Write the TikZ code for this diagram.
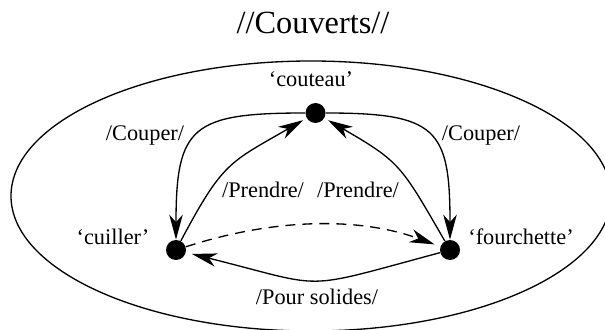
\documentclass[tikz,border=0pt]{standalone}
\usepackage{fontspec}
\setmainfont{Liberation Serif}
\usetikzlibrary{arrows.meta,positioning}
\tikzstyle{arrow} = [line width=0.75pt,-{Stealth[length=0.5cm,width=0.27cm,inset=0.15cm]}]
\tikzstyle{state} = [circle,fill=black,inner sep=0pt,minimum size=0.4cm]
\tikzstyle{lbl} = [font=\fontsize{12.7}{15}\selectfont]

\begin{document}
\begin{tikzpicture}
\useasboundingbox (0,0) rectangle (12.1,6.58);
\clip (0,0) rectangle (12.1,6.58);

% Title
\node[font=\fontsize{18.4}{22}\selectfont] (title) at (6.26,6.13) {//Couverts//};

% Enclosing ellipse
\draw[line width=0.75pt] (6.22,2.66) ellipse (6.0 and 2.7);

% States
\node[state] (couteau) at (6.31,4.32) {};
\node[state] (cuiller) at (3.52,1.58) {};
\node[state] (fourchette) at (9.00,1.58) {};

\node[lbl] (couteaulbl) at (6.22,5.00) {‘couteau’};
\node[lbl] (cuillerlbl) at (2.26,1.84) {‘cuiller’};
\node[lbl] (fourchettelbl) at (10.42,1.84) {‘fourchette’};

% Transitions
\draw[arrow] (couteau) to[out=180,in=90,looseness=1.6] (cuiller);
\draw[arrow] (couteau) to[out=0,in=90,looseness=1.6] (fourchette);
\draw[arrow,shorten >=0.08cm] (cuiller) to[out=62,in=210,looseness=1.3] (couteau);
\draw[arrow,shorten >=0.08cm] (fourchette) to[out=120,in=-30,looseness=1.3] (couteau);
\draw[arrow,dashed,dash pattern=on 0.2cm off 0.14cm,shorten >=0.12cm] (cuiller) to[out=18,in=160,looseness=0.9] (fourchette);
\draw[arrow,shorten >=0.12cm] (fourchette) to[out=195,in=-14,looseness=1.5] (cuiller);

% Transition labels
\node[lbl] (couperl) at (2.90,3.88) {/Couper/};
\node[lbl] (couperr) at (9.62,3.88) {/Couper/};
\node[lbl] (prendrel) at (5.26,2.78) {/Prendre/};
\node[lbl] (prendrer) at (7.16,2.78) {/Prendre/};
\node[lbl] (solides) at (6.34,0.64) {/Pour solides/};
\end{tikzpicture}
\end{document}
